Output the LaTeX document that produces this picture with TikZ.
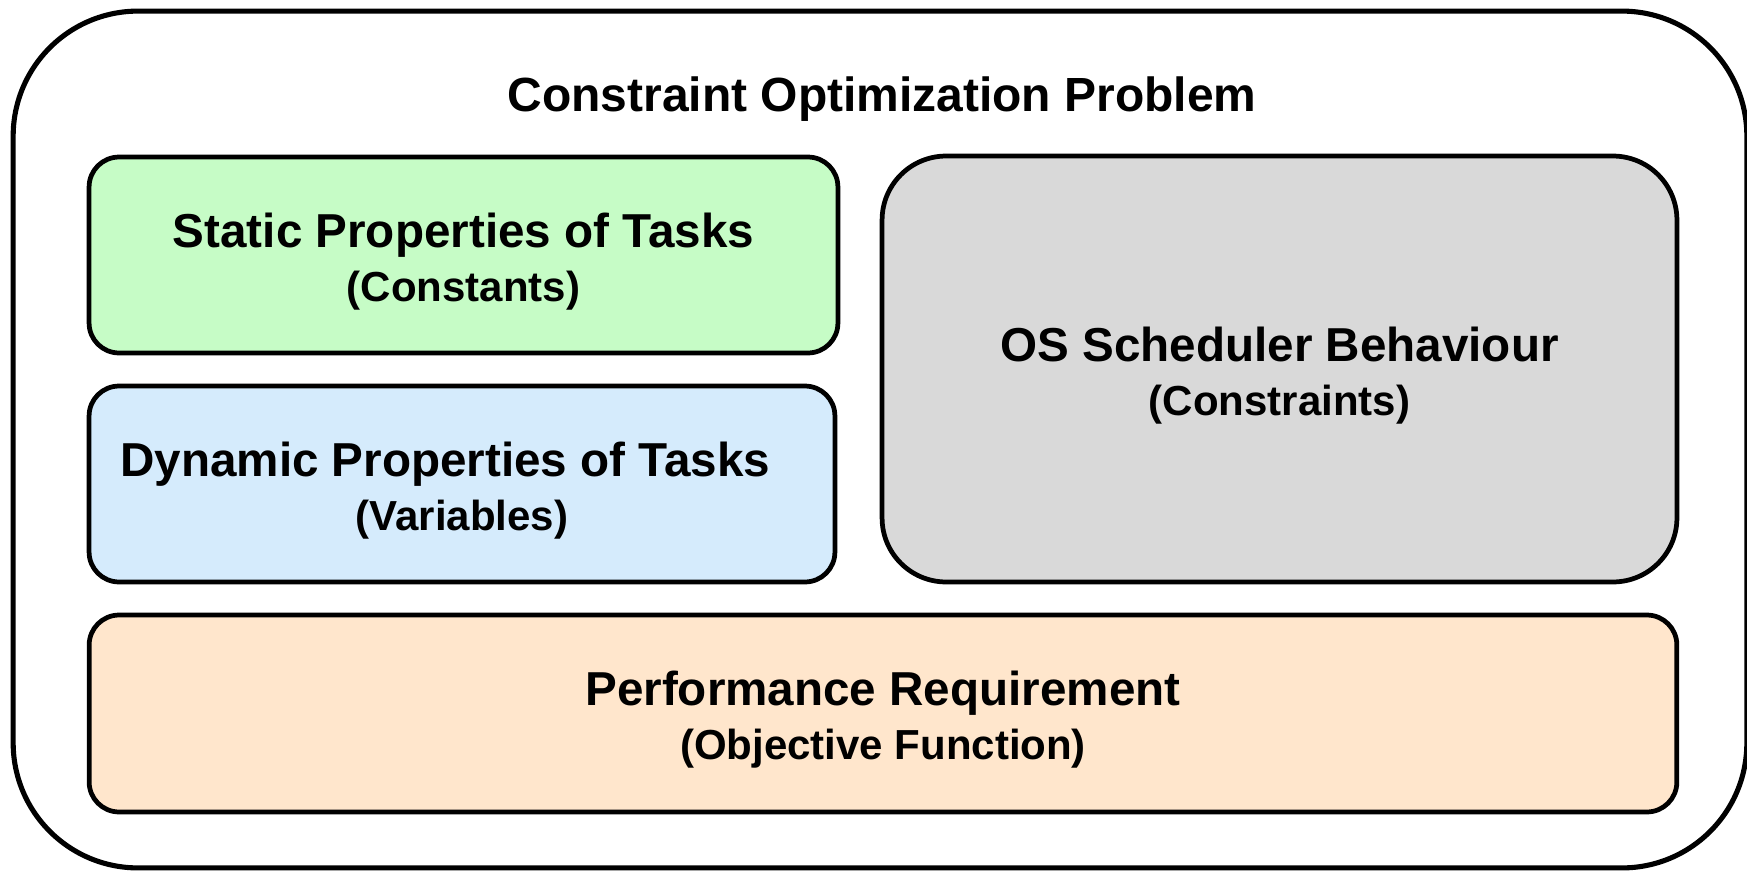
\documentclass[tikz,border=0pt]{standalone}
\usepackage{fontspec}
\setmainfont{Liberation Sans}
\definecolor{constgreen}{HTML}{C6FCC6}
\definecolor{varblue}{HTML}{D5EBFC}
\definecolor{ruleGray}{HTML}{D9D9D9}
\definecolor{goalorange}{HTML}{FFE6CC}
\newcommand{\lift}{\rule{0pt}{27pt}}
\newcommand{\subline}[1]{{\fontsize{23.9}{30.7}\selectfont #1}}
\begin{document}
\begin{tikzpicture}[x=0.02cm,y=-0.02cm,
  part/.style={shape=rectangle,draw=black,line width=2.7pt,align=center,
    font=\fontsize{27.1}{30.7}\selectfont\bfseries}]
\useasboundingbox (0,0) rectangle (1747,872);

\node[shape=rectangle,draw=black,line width=2.9pt,rounded corners=2.5cm,minimum width=34.68cm,minimum height=17.14cm] (problem) at (880,439.5) {};
\node[font=\fontsize{27.3}{30.7}\selectfont\bfseries] (title) at (882,99) {Constraint Optimization Problem};

\node[part,fill=constgreen,rounded corners=0.6cm,minimum width=14.98cm,minimum height=3.92cm] (static) at (463.5,255) {\lift Static Properties of Tasks\\\subline{(Constants)}};
\node[part,fill=varblue,rounded corners=0.6cm,minimum width=14.92cm,minimum height=3.92cm] (dynamic) at (462,484) {\lift Dynamic Properties of Tasks\hspace*{0.7em}\\\subline{(Variables)}};
\node[part,fill=ruleGray,rounded corners=1.28cm,minimum width=15.9cm,minimum height=8.52cm] (sched) at (1279.5,369) {\lift OS Scheduler Behaviour\\\subline{(Constraints)}};
\node[part,fill=goalorange,rounded corners=0.6cm,minimum width=31.76cm,minimum height=3.94cm] (perf) at (883,713.5) {\lift Performance Requirement\\\subline{(Objective Function)}};
\end{tikzpicture}
\end{document}
